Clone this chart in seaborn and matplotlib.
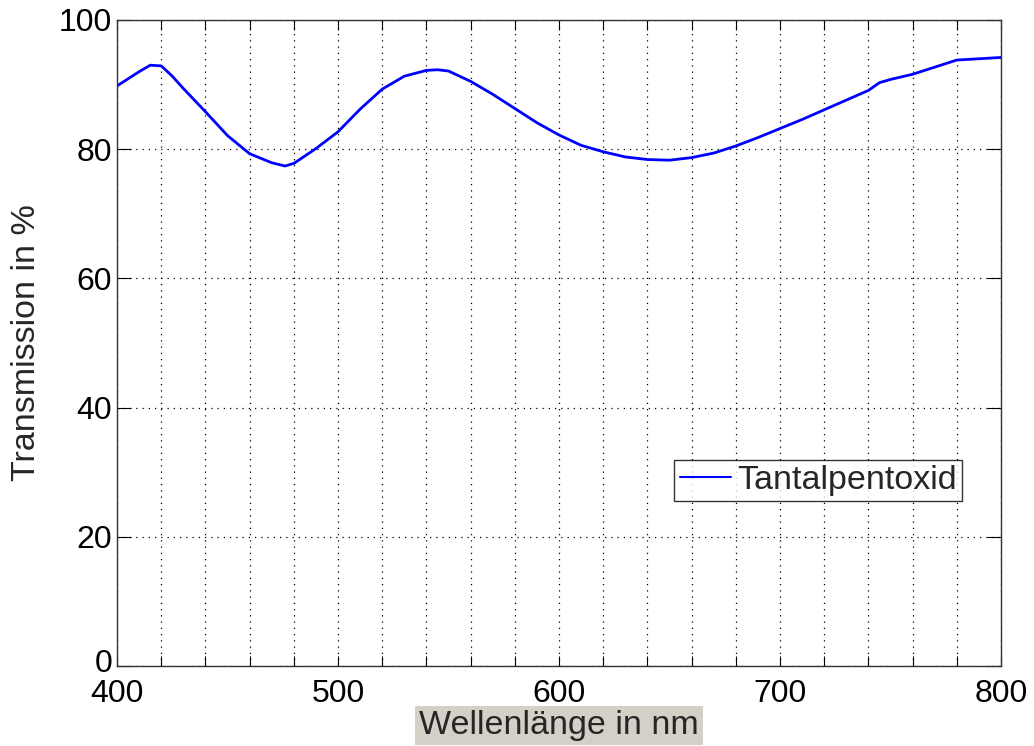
import matplotlib
matplotlib.use("Agg")
import matplotlib.pyplot as plt
import matplotlib.transforms as mtransforms
import seaborn as sns
import pandas as pd

# Transmission spectrum of a tantalum pentoxide coating
wavelength_nm = [400, 410, 415, 420, 425, 430, 440, 450, 460, 470, 476, 480,
                 490, 500, 510, 520, 530, 540, 545, 550, 560, 570, 580, 590,
                 600, 610, 620, 630, 640, 650, 660, 670, 680, 690, 700, 710,
                 720, 730, 740, 745, 750, 760, 770, 780, 790, 800]
transmission_pct = [89.8, 92.0, 93.0, 92.9, 91.3, 89.4, 85.8, 82.1, 79.3, 77.9,
                    77.4, 77.8, 80.1, 82.7, 86.2, 89.3, 91.3, 92.2, 92.3, 92.1,
                    90.5, 88.5, 86.3, 84.1, 82.2, 80.6, 79.6, 78.8, 78.4, 78.3,
                    78.7, 79.4, 80.5, 81.8, 83.2, 84.6, 86.1, 87.6, 89.1, 90.3,
                    90.8, 91.6, 92.7, 93.8, 94.0, 94.2]
series_name = "Tantalpentoxid"

x_major = [400, 500, 600, 700, 800]
y_major = [0, 20, 40, 60, 80, 100]

df = pd.DataFrame({"wl": wavelength_nm, "T": transmission_pct,
                   "name": series_name})

sns.set_style("white")
plt.rcParams["font.family"] = ["Liberation Sans", "DejaVu Sans"]

fig = plt.figure(figsize=(10.34, 7.46), dpi=100)
ax = fig.add_axes([0.1132, 0.1072, 0.8549, 0.866])

sns.lineplot(data=df, x="wl", y="T", hue="name", palette=["#0000ff"],
             linewidth=2.0, ax=ax, legend=True, sort=False)

ax.set_xlim(400, 800)
ax.set_ylim(0, 100)
ax.set_xticks(x_major)
ax.set_xticks(range(400, 801, 20), minor=True)
ax.set_yticks(y_major)
ax.set_xticklabels([str(v) for v in x_major])
ax.set_yticklabels([str(v) for v in y_major])

ax.grid(True, which="both", axis="x", linestyle=(0, (1, 4)), color="black",
        linewidth=0.9)
ax.grid(True, which="major", axis="y", linestyle=(0, (1, 4)), color="black",
        linewidth=0.9)

ax.tick_params(axis="x", which="both", direction="in", top=True, bottom=True,
               length=7, width=0.8, labelsize=23, pad=9, colors="black")
ax.tick_params(axis="y", which="both", direction="in", left=True, right=True,
               length=10, width=0.8, labelsize=23, pad=3.5, colors="black")

# lift the "0" slightly so it clears the "400" below the corner
zero_label = ax.get_yticklabels()[0]
zero_label.set_transform(zero_label.get_transform() +
                         mtransforms.ScaledTranslation(0, 4 / 72,
                                                       fig.dpi_scale_trans))

for s in ax.spines.values():
    s.set_visible(True)
    s.set_color("#333333")
    s.set_linewidth(1.0)

ax.set_xlabel("Wellenlänge in nm", fontsize=24.5, labelpad=1,
              bbox=dict(facecolor="#d4d0c8", edgecolor="none", pad=3))
ax.set_ylabel("Transmission in %", fontsize=24.5, labelpad=12)

handles, labels = ax.get_legend_handles_labels()
leg = ax.legend(handles, labels, loc="lower right",
                bbox_to_anchor=(0.956, 0.255), fontsize=24.5, frameon=True,
                fancybox=False, handlelength=1.5, handletextpad=0.2,
                borderpad=0.15, borderaxespad=0)
leg.get_frame().set_edgecolor("black")
leg.get_frame().set_linewidth(1.0)
for line in leg.get_lines():
    line.set_linewidth(1.5)

fig.savefig("out.png", dpi=100, facecolor="white")
